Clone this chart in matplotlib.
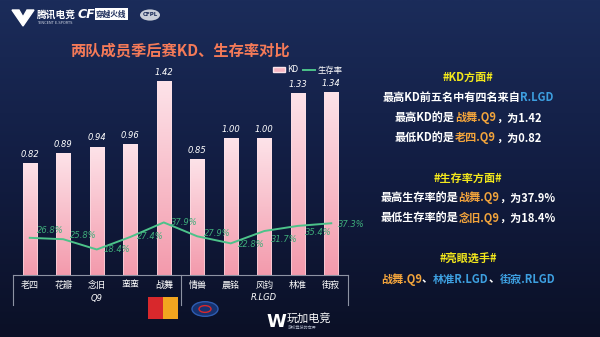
import numpy as np
import matplotlib
matplotlib.use("Agg")
import matplotlib.pyplot as plt
from matplotlib.patches import Polygon, Rectangle, Circle, Patch
from matplotlib.lines import Line2D
from matplotlib.colors import LinearSegmentedColormap

plt.rcParams['font.family'] = ['Noto Sans CJK SC', 'DejaVu Sans']

# --- DATA ---
players = ['老四', '花瓣', '念旧', '蛮蛮', '战舞', '情兽', '晨铭', '风钧', '林准', '街寂']
teams = ['Q9', 'R.LGD']
kd = [0.82, 0.89, 0.94, 0.96, 1.42, 0.85, 1.00, 1.00, 1.33, 1.34]
survival = [26.8, 25.8, 18.4, 27.4, 37.9, 27.9, 22.8, 31.7, 35.4, 37.3]
# label nudges for the survival labels (points, vertical)
surv_dy = [5, 3, 0, 0, 0, 2, -1, -6, -5, -1]

W, H = 600, 337
fig = plt.figure(figsize=(6, 3.37), dpi=100)

def fx(px):
    return px / W

def fy(py):
    return 1 - py / H

# background gradient
bg = fig.add_axes([0, 0, 1, 1])
bg_cmap = LinearSegmentedColormap.from_list('bg', ['#1b2c5a', '#121d42', '#0b1026'])
bg.imshow(np.linspace(0, 1, 256).reshape(-1, 1), cmap=bg_cmap, aspect='auto', extent=[0, 1, 0, 1])
bg.set_xlim(0, 1)
bg.set_ylim(0, 1)
bg.axis('off')

# --- CHART ---
ax = fig.add_axes([fx(13), fy(275), fx(335), 215 / H])
ax.patch.set_alpha(0)
x = np.arange(len(players))
bars = ax.bar(x, kd, width=0.42, color='none', edgecolor='#fbe4ea', linewidth=0.4, zorder=2)
bar_cmap = LinearSegmentedColormap.from_list('bar', ['#f39aac', '#fde3e9'])
grad = np.linspace(0, 1, 128).reshape(-1, 1)
for b in bars:
    im = ax.imshow(grad, cmap=bar_cmap, origin='lower', aspect='auto', zorder=1,
                   extent=[b.get_x(), b.get_x() + b.get_width(), 0, b.get_height()])
    im.set_clip_path(b)
for xi, v in zip(x, kd):
    ax.annotate(f'{v:.2f}', (xi, v), xytext=(0, 3), textcoords='offset points',
                ha='center', va='bottom', color='white', fontsize=6, style='italic',
                family='DejaVu Sans')

ax.set_xlim(-0.5, 9.5)
ax.set_ylim(0, 215 / 136.6)
ax.set_yticks([])
ax.set_xticks(x)
ax.set_xticklabels(players, color='white', fontsize=6.5)
ax.tick_params(axis='x', length=0, pad=4)
for s in ['top', 'left', 'right']:
    ax.spines[s].set_visible(False)
ax.spines['bottom'].set_color('#8d93a3')
ax.spines['bottom'].set_linewidth(0.8)

# group separators and team names
for xs in [0, 0.5, 1]:
    ax.add_line(Line2D([xs, xs], [0, -30 / 215], transform=ax.transAxes,
                       color='#8d93a3', lw=0.8, clip_on=False))
for i, t in enumerate(teams):
    ax.text(0.25 + 0.5 * i, -23 / 215, t, transform=ax.transAxes, ha='center', va='center',
            color='white', fontsize=6, style='italic', family='DejaVu Sans')

# survival line
ax2 = ax.twinx()
ax2.set_ylim(0, 155)
ax2.axis('off')
ax2.plot(x, survival, color='#4cc38a', lw=1.4, zorder=3)
for xi, v, dy in zip(x, survival, surv_dy):
    ax2.annotate(f'{v}%', (xi, v), xytext=(5, dy), textcoords='offset points',
                 ha='left', va='center', color='#3fae7b', fontsize=6, style='italic',
                 family='DejaVu Sans')

# legend
leg = fig.legend(handles=[Patch(facecolor='#f7b5c2', edgecolor='#fbe4ea', label='KD'),
                          Line2D([0], [0], color='#4cc38a', lw=1.4, label='生存率')],
                 loc='center right', bbox_to_anchor=(fx(350), fy(70)), ncol=2, frameon=False,
                 fontsize=6, handlelength=1.4, handleheight=0.6, columnspacing=0.6,
                 handletextpad=0.3)
for t in leg.get_texts():
    t.set_color('white')

# title
fig.text(fx(180), fy(50), '两队成员季后赛KD、生存率对比', ha='center', va='center',
         color='#f47a58', fontsize=11, weight='bold')

# --- HEADER LOGOS ---
fig.patches.append(Polygon([[fx(12), fy(10)], [fx(19), fy(10)], [fx(23), fy(17)], [fx(27), fy(10)],
                            [fx(34), fy(10)], [fx(23), fy(26)]], closed=True,
                           transform=fig.transFigure, color='white'))
fig.text(fx(37), fy(15), '腾讯电竞', color='white', fontsize=7, weight='bold', va='center')
fig.text(fx(37), fy(23.5), 'TENCENT E-SPORTS', color='#cfd5e3', fontsize=2.6, va='center',
         family='DejaVu Sans')
fig.text(fx(78), fy(15), 'CF', color='white', fontsize=9, weight='bold', style='italic',
         va='center', family='DejaVu Sans')
fig.text(fx(96), fy(14), '穿越火线', color='#1b2c5a', fontsize=5.5, weight='bold', va='center',
         bbox=dict(boxstyle='square,pad=0.15', fc='white', ec='none'))
fig.patches.append(Circle((fx(150), fy(15)), 10 / W, transform=fig.transFigure,
                          fc='#c9ced9', ec='none'))
fig.text(fx(150), fy(15), 'CFPL', color='#1b2c5a', fontsize=4, weight='bold', ha='center',
         va='center', family='DejaVu Sans')

# --- FOOTER LOGOS ---
fig.patches.append(Rectangle((fx(148), fy(319)), 15 / W, 22 / H, transform=fig.transFigure,
                             fc='#d8282c', ec='none'))
fig.patches.append(Rectangle((fx(163), fy(319)), 15 / W, 22 / H, transform=fig.transFigure,
                             fc='#f2a51f', ec='none'))
fig.patches.append(Circle((fx(205), fy(309)), 13 / W, transform=fig.transFigure,
                          fc='#17326f', ec='#2e5cb0', lw=1))
fig.patches.append(Circle((fx(205), fy(309)), 6 / W, transform=fig.transFigure,
                          fc='none', ec='#d8282c', lw=1))
fig.text(fx(276), fy(322), 'W', color='white', fontsize=13, weight='bold', ha='center',
         va='center', family='DejaVu Sans')
fig.text(fx(287), fy(318), '玩加电竞', color='white', fontsize=8, va='center')
fig.text(fx(288), fy(328), '游戏竞技的世界', color='#aab1c2', fontsize=3, va='center')

# --- RIGHT PANEL ---
YELLOW = '#f3e81c'
WHITE = '#ffffff'
ORANGE = '#f2a43c'
BLUE = '#3d9fe0'

renderer = fig.canvas.get_renderer()

def rich_line(cy, parts, cx=468, size=8):
    texts = [fig.text(0, fy(cy), s, color=c, fontsize=size, weight='bold', va='center')
             for s, c in parts]
    widths = [t.get_window_extent(renderer).width for t in texts]
    left = cx - sum(widths) / 2
    for t, w in zip(texts, widths):
        t.set_x(fx(left))
        left += w

rich_line(77, [('#KD方面#', YELLOW)])
rich_line(97, [('最高KD前五名中有四名来自', WHITE), ('R.LGD', BLUE)])
rich_line(118, [('最高KD的是', WHITE), ('战舞.Q9', ORANGE), ('，为1.42', WHITE)])
rich_line(138, [('最低KD的是', WHITE), ('老四.Q9', ORANGE), ('，为0.82', WHITE)])
rich_line(178, [('#生存率方面#', YELLOW)])
rich_line(198, [('最高生存率的是', WHITE), ('战舞.Q9', ORANGE), ('，为37.9%', WHITE)])
rich_line(218, [('最低生存率的是', WHITE), ('念旧.Q9', ORANGE), ('，为18.4%', WHITE)])
rich_line(259, [('#亮眼选手#', YELLOW)])
rich_line(279, [('战舞.Q9', ORANGE), ('、', WHITE), ('林准R.LGD', BLUE), ('、', WHITE),
                ('街寂.RLGD', BLUE)])

fig.savefig('out.png', dpi=100)
